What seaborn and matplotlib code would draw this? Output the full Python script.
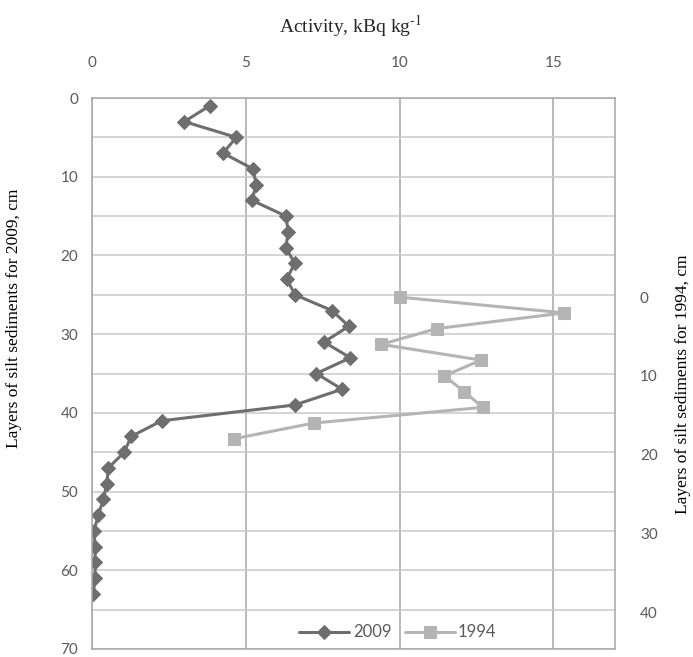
import matplotlib
matplotlib.use("Agg")
import matplotlib.pyplot as plt
import seaborn as sns
import pandas as pd

# Sediment profile, 2009 core: depth (cm) and activity (kBq/kg)
depth_2009 = [1, 3, 5, 7, 9, 11, 13, 15, 17, 19, 21, 23, 25, 27, 29, 31,
              33, 35, 37, 39, 41, 43, 45, 47, 49, 51, 53, 55, 57, 59, 61, 63]
activity_2009 = [3.82, 3.0, 4.69, 4.26, 5.23, 5.34, 5.2, 6.3, 6.38, 6.3, 6.59,
                 6.33, 6.6, 7.8, 8.35, 7.54, 8.4, 7.29, 8.13, 6.59, 2.27, 1.27,
                 1.05, 0.53, 0.48, 0.37, 0.2, 0.07, 0.1, 0.1, 0.1, 0.04]

# Sediment profile, 1994 core
depth_1994 = [0, 2, 4, 6, 8, 10, 12, 14, 16, 18]
activity_1994 = [10.0, 15.35, 11.2, 9.4, 12.65, 11.45, 12.1, 12.7, 7.2, 4.6]

left_ticks = [0, 10, 20, 30, 40, 50, 60, 70]
right_ticks = [0, 10, 20, 30, 40]
x_ticks = [0, 5, 10, 15]

df09 = pd.DataFrame({"activity": activity_2009, "depth": depth_2009})
df94 = pd.DataFrame({"activity": activity_1994, "depth": depth_1994})

sns.set_style("white")
plt.rcParams["font.family"] = ["Lato", "DejaVu Sans"]
plt.rcParams["mathtext.fontset"] = "stix"

fig = plt.figure(figsize=(6.93, 6.57), dpi=100)
ax = fig.add_axes([92 / 693, 1 - 649 / 657, 523 / 693, 551 / 657])

c09 = "#6e6e6e"
c94 = "#b4b4b4"
tick_col = "#595959"
serif = ["Liberation Serif", "DejaVu Serif"]

sns.lineplot(data=df09, x="activity", y="depth", sort=False, estimator=None,
             orient="y", ax=ax, color=c09, lw=2.2, marker="D", markersize=7,
             markeredgecolor=c09, label="2009", legend=False)

ax.set_xlim(0, 17)
ax.set_ylim(70, 0)
ax.set_xticks(x_ticks)
ax.set_yticks(left_ticks)
ax.set_yticks(range(5, 70, 10), minor=True)
ax.xaxis.tick_top()
ax.tick_params(axis="x", length=0, pad=20, labelsize=11, labelcolor=tick_col)
ax.tick_params(axis="y", which="both", length=0, pad=10, labelsize=11,
               labelcolor=tick_col)
ax.grid(True, axis="x", color="#a6a6a6", lw=1.1)
ax.grid(True, axis="y", which="both", color="#c9c9c9", lw=1.1)
ax.set_axisbelow(True)
for s in ax.spines.values():
    s.set_color("#a6a6a6")
    s.set_linewidth(1.1)

ax.set_xlabel("")
ax.set_ylabel("Layers of silt sediments for 2009, cm", family=serif,
              fontsize=12.5, color="black")
ax.yaxis.set_label_coords(-0.134, 0.6)
ax.text(0.495, 1.13, r"Activity, kBq kg$^{\text{-1}}$", transform=ax.transAxes,
        ha="center", va="center", family=serif, fontsize=14)

ax2 = ax.twinx()
sns.lineplot(data=df94, x="activity", y="depth", sort=False, estimator=None,
             orient="y", ax=ax2, color=c94, lw=2.2, marker="s", markersize=9,
             markeredgecolor=c94, label="1994", legend=False)
ax2.set_ylim(44.7, -25.3)
ax2.set_yticks(right_ticks)
ax2.tick_params(axis="y", length=0, pad=18, labelsize=11, labelcolor=tick_col)
ax2.set_ylabel("Layers of silt sediments for 1994, cm", family=serif,
               fontsize=12.5, color="black")
ax2.yaxis.set_label_coords(1.115, 0.48)
for s in ax2.spines.values():
    s.set_visible(False)

h1, l1 = ax.get_legend_handles_labels()
h2, l2 = ax2.get_legend_handles_labels()
ax2.legend(h1 + h2, l1 + l2, loc="center", bbox_to_anchor=(0.585, 0.03),
           ncol=2, frameon=False, fontsize=12, handlelength=3.0,
           handletextpad=0.2, columnspacing=0.8, labelcolor=tick_col)

fig.savefig("out.png", dpi=100)
